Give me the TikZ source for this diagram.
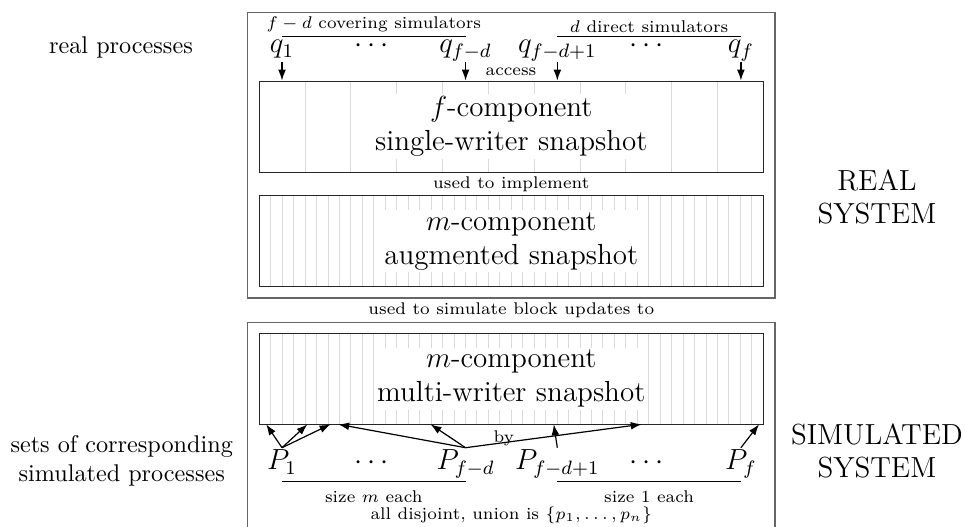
\documentclass[tikz,border=0pt]{standalone}
\usepackage{amsmath}
\usepackage{tikz}
\usetikzlibrary{arrows.meta}

\begin{document}
\begin{tikzpicture}[>={Latex[length=4.5pt,width=3.2pt]},
        frame/.style={draw=black!60, line width=0.6pt},
        snapbox/.style={draw=black!85, line width=0.5pt, minimum width=7.32cm, minimum height=1.325cm, inner sep=0pt},
        colline/.style={black!15, line width=0.4pt},
        boxtext/.style={font=\large, align=center, fill=white, inner sep=1pt},
        proc/.style={font=\large, inner sep=1pt, text height=8pt, text depth=2.5pt, anchor=base},
        qproc/.style={proc, text height=5pt},
        access/.style={->, line width=0.5pt},
        small/.style={font=\scriptsize, inner sep=1.5pt}]
    \useasboundingbox (0, 0) rectangle (14.016, 7.654);

    % real system
    \draw[frame] (3.595, 7.473) rectangle (11.256, 3.326);
    \foreach \i in {1,...,10}
        \draw[colline] (3.766+\i*0.6655, 5.15) -- (3.766+\i*0.6655, 6.474);
    \foreach \i in {1,...,43}
        \draw[colline] (3.766+\i*0.16636, 3.489) -- (3.766+\i*0.16636, 4.814);
    \node[snapbox] (sws) at (7.426, 5.812) {};
    \node[boxtext] (swstext) at (sws) {$f$-component\\single-writer snapshot};
    \node[small] (implement) at (7.426, 4.982) {used to implement};
    \node[snapbox] (aug) at (7.426, 4.151) {};
    \node[boxtext] (augtext) at (aug) {$m$-component\\augmented snapshot};

    \node[qproc] (q1) at (4.096, 6.884) {$q_1$};
    \node[qproc] (qdots1) at (5.429, 6.884) {$\cdots$};
    \node[qproc] (qfd) at (6.762, 6.884) {$q_{f-d}$};
    \node[qproc] (qfd1) at (8.095, 6.884) {$q_{f-d+1}$};
    \node[qproc] (qdots2) at (9.428, 6.884) {$\cdots$};
    \node[qproc] (qf) at (10.761, 6.884) {$q_f$};
    \draw (q1 |- 0,7.124) -- node[small, above] (cover) {$f-d$ covering simulators} (qfd |- 0,7.124);
    \draw (qfd1 |- 0,7.124) -- node[small, above] (direct) {$d$ direct simulators} (qf |- 0,7.124);
    \node[small] (accesslabel) at (7.422, 6.616) {access};
    \draw[access] (q1) -- (q1 |- sws.north);
    \draw[access] (qfd) -- (qfd |- sws.north);
    \draw[access] (qfd1) -- (qfd1 |- sws.north);
    \draw[access] (qf) -- (qf |- sws.north);

    \node (realproc) at (1.757, 6.965) {real processes};
    \node[font=\large, align=center] (realsys) at (12.737, 4.793) {REAL\\SYSTEM};

    \node[small] (simulate) at (7.426, 3.152) {used to simulate block updates to};

    % simulated system
    \draw[frame] (3.595, 2.973) rectangle (11.256, -0.3);
    \foreach \i in {1,...,43}
        \draw[colline] (3.766+\i*0.16636, 1.491) -- (3.766+\i*0.16636, 2.815);
    \node[snapbox] (mws) at (7.426, 2.153) {};
    \node[boxtext] (mwstext) at (mws) {$m$-component\\multi-writer snapshot};

    \node[proc] (P1) at (4.096, 0.828) {$P_1$};
    \node[proc] (pdots1) at (5.429, 0.828) {$\cdots$};
    \node[proc] (Pfd) at (6.762, 0.828) {$P_{f-d}$};
    \node[proc] (Pfd1) at (8.095, 0.828) {$P_{f-d+1}$};
    \node[proc] (pdots2) at (9.428, 0.828) {$\cdots$};
    \node[proc] (Pf) at (10.761, 0.828) {$P_f$};

    \foreach \n/\x in {in1/3.866, in2/4.465, in3/4.800, in4/4.913, in5/6.254, in6/8.043, in7/9.320, in8/11.024}
        \coordinate (\n) at (\x, 1.491);
    \draw[access] (P1.north) -- (in1);
    \draw[access] (P1.north) -- (in2);
    \draw[access] (P1.north) -- (in3);
    \draw[access] (Pfd.north) -- (in4);
    \draw[access] (Pfd.north) -- (in5);
    \draw[access] (Pfd.north) -- (in7);
    \draw[access] (Pfd1.north) -- (in6);
    \draw[access] (Pf.north) -- (in8);
    \node[small] (by) at (7.317, 1.284) {by};

    \draw (P1 |- 0,0.656) -- node[small, below=2pt] (sizem) {size $m$ each} (Pfd |- 0,0.656);
    \draw (Pfd1 |- 0,0.656) -- node[small, below=2pt] (sizeone) {size 1 each} (Pf |- 0,0.656);
    \node[small] (disjoint) at (7.426, 0.174) {all disjoint, union is $\{p_1, \ldots, p_n\}$};

    \node[align=center] (simproc) at (1.768, 0.963) {sets of corresponding\\simulated processes};
    \node[font=\large, align=center] (simsys) at (12.737, 1.104) {SIMULATED\\SYSTEM};
\end{tikzpicture}
\end{document}
